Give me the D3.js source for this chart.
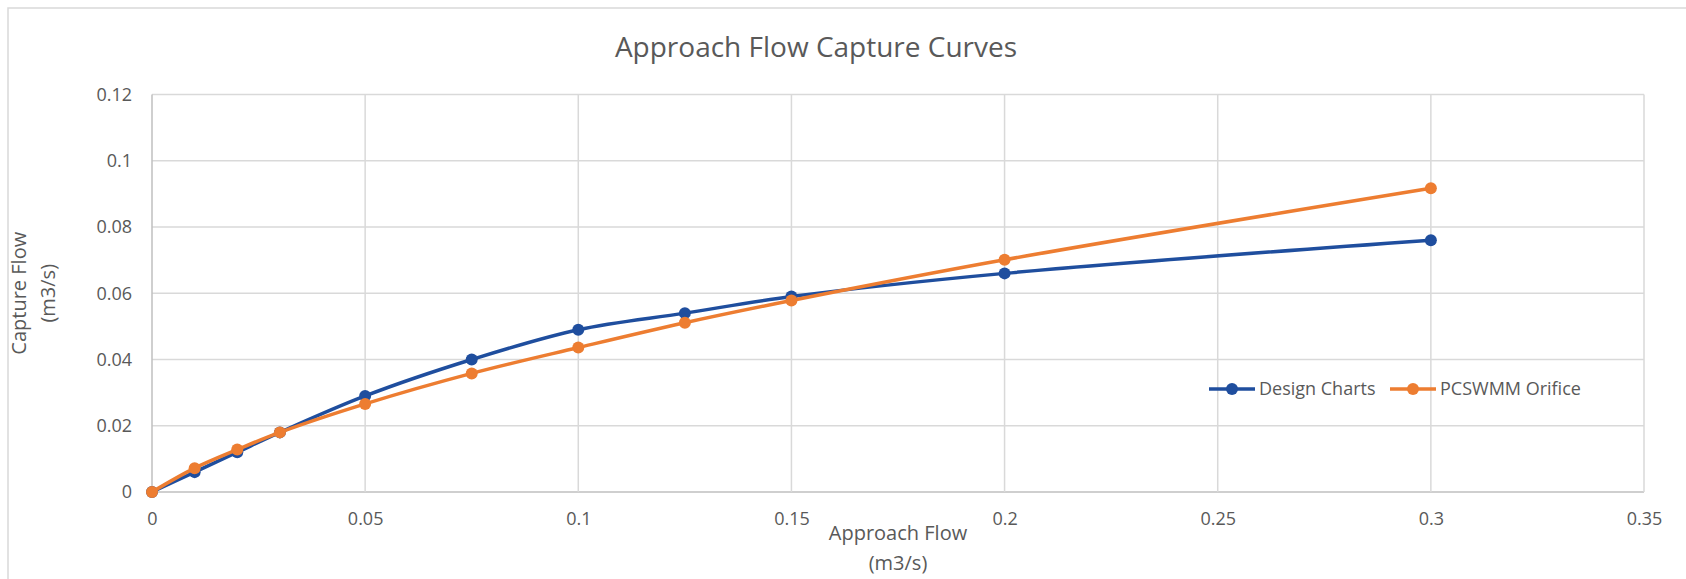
<!DOCTYPE html>
<html>
<head>
<meta charset="utf-8">
<script src="https://cdn.jsdelivr.net/npm/d3@7"></script>
<style>
  body { margin: 0; background: #fff; }
  text { font-family: "Open Sans", sans-serif; fill: #595959; }
</style>
</head>
<body>
<div id="container"></div>
<script>
// data
var approachFlow = [0, 0.01, 0.02, 0.03, 0.05, 0.075, 0.1, 0.125, 0.15, 0.2, 0.3];
var designCharts = [0, 0.006, 0.012, 0.018, 0.029, 0.040, 0.049, 0.054, 0.059, 0.066, 0.076];
var pcswmmOrifice = [0, 0.0072, 0.0128, 0.018, 0.0266, 0.0358, 0.0436, 0.0511, 0.0578, 0.0701, 0.0917];
var xTicks = [0, 0.05, 0.1, 0.15, 0.2, 0.25, 0.3, 0.35];
var yTicks = [0, 0.02, 0.04, 0.06, 0.08, 0.1, 0.12];
var seriesNames = ['Design Charts', 'PCSWMM Orifice'];
var seriesColors = ['#1f4e9e', '#ed7d31'];

var width = 1686,
    height = 579;

var plot = { left: 152, right: 1644, top: 94.5, bottom: 492 };

var svg = d3.select('div#container')
    .append('svg')
    .attr('width', width)
    .attr('height', height);

// chart frame (right and bottom edges fall outside the picture)
svg.append('path')
    .attr('d', 'M8,' + (height + 2) + 'V8H' + (width + 2))
    .attr('fill', 'none')
    .attr('stroke', '#d9d9d9')
    .attr('stroke-width', 1.5);

var x = d3.scaleLinear().domain([0, 0.35]).range([plot.left, plot.right]);
var y = d3.scaleLinear().domain([0, 0.12]).range([plot.bottom, plot.top]);

// gridlines
svg.append('g').selectAll('line.h')
    .data(yTicks)
    .enter().append('line')
    .attr('x1', plot.left).attr('x2', plot.right)
    .attr('y1', function(d) { return y(d); })
    .attr('y2', function(d) { return y(d); })
    .attr('stroke', function(d) { return d === 0 ? '#bfbfbf' : '#d9d9d9'; })
    .attr('stroke-width', 1.5);

svg.append('g').selectAll('line.v')
    .data(xTicks)
    .enter().append('line')
    .attr('y1', plot.top).attr('y2', plot.bottom)
    .attr('x1', function(d) { return x(d); })
    .attr('x2', function(d) { return x(d); })
    .attr('stroke', function(d) { return d === 0 ? '#bfbfbf' : '#d9d9d9'; })
    .attr('stroke-width', 1.5);

// axes labels via d3 axes, lines hidden
var xAxis = svg.append('g')
    .attr('transform', 'translate(0,' + plot.bottom + ')')
    .call(d3.axisBottom(x).tickValues(xTicks).tickFormat(d3.format('~g')).tickSize(0).tickPadding(20));
var yAxis = svg.append('g')
    .attr('transform', 'translate(' + plot.left + ',0)')
    .call(d3.axisLeft(y).tickValues(yTicks).tickFormat(d3.format('~g')).tickSize(0).tickPadding(20));
[xAxis, yAxis].forEach(function(a) {
    a.select('.domain').remove();
    a.selectAll('text')
        .attr('font-family', '"Open Sans", sans-serif')
        .attr('font-size', 18)
        .attr('fill', '#595959');
});

// series
var curves = [d3.curveCatmullRom.alpha(0.5), d3.curveCatmullRom.alpha(0.5)];
[designCharts, pcswmmOrifice].forEach(function(vals, i) {
    var pts = approachFlow.map(function(a, j) { return [a, vals[j]]; });
    var line = d3.line()
        .x(function(d) { return x(d[0]); })
        .y(function(d) { return y(d[1]); })
        .curve(curves[i]);
    svg.append('path')
        .datum(pts)
        .attr('d', line)
        .attr('fill', 'none')
        .attr('stroke', seriesColors[i])
        .attr('stroke-width', 3.5)
        .attr('stroke-linejoin', 'round');
    svg.append('g').selectAll('circle')
        .data(pts)
        .enter().append('circle')
        .attr('cx', function(d) { return x(d[0]); })
        .attr('cy', function(d) { return y(d[1]); })
        .attr('r', 6)
        .attr('fill', seriesColors[i]);
});

// title
svg.append('text')
    .attr('x', 816).attr('y', 57)
    .attr('text-anchor', 'middle')
    .attr('font-size', 28)
    .text('Approach Flow Capture Curves');

// axis titles
var midY = (plot.top + plot.bottom) / 2,
    midX = (plot.left + plot.right) / 2;
svg.append('text')
    .attr('transform', 'translate(26,' + midY + ') rotate(-90)')
    .attr('text-anchor', 'middle')
    .attr('font-size', 20)
    .text('Capture Flow');
svg.append('text')
    .attr('transform', 'translate(55,' + midY + ') rotate(-90)')
    .attr('text-anchor', 'middle')
    .attr('font-size', 20)
    .text('(m3/s)');
svg.append('text')
    .attr('x', midX).attr('y', 540)
    .attr('text-anchor', 'middle')
    .attr('font-size', 20)
    .text('Approach Flow');
svg.append('text')
    .attr('x', midX).attr('y', 570)
    .attr('text-anchor', 'middle')
    .attr('font-size', 20)
    .text('(m3/s)');

// legend
var legendX = [1209, 1390],
    legendY = 389;
seriesNames.forEach(function(name, i) {
    var g = svg.append('g').attr('transform', 'translate(' + legendX[i] + ',' + legendY + ')');
    g.append('line')
        .attr('x1', 0).attr('x2', 46)
        .attr('stroke', seriesColors[i])
        .attr('stroke-width', 3.5);
    g.append('circle')
        .attr('cx', 23).attr('r', 6)
        .attr('fill', seriesColors[i]);
    g.append('text')
        .attr('x', 50).attr('dy', '0.35em')
        .attr('font-size', 18)
        .text(name);
});
</script>
</body>
</html>
